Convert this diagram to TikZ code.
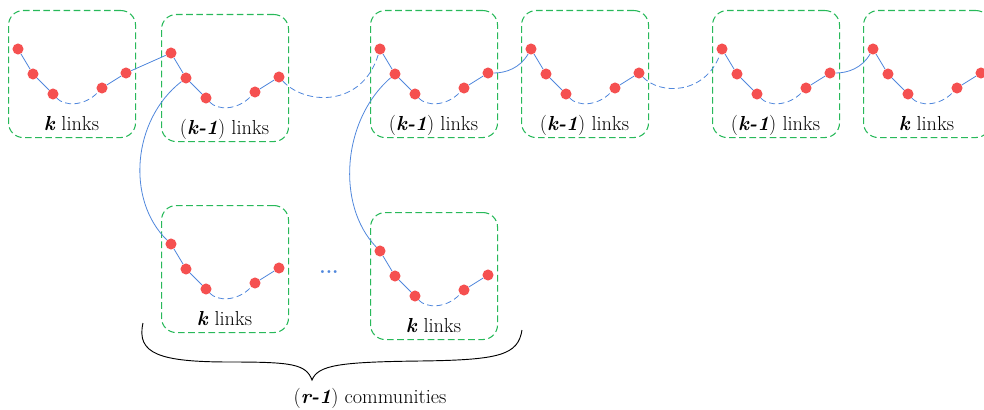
\documentclass[tikz,border=0pt]{standalone}
\usepackage{tikz}

\definecolor{commgreen}{RGB}{40,185,90}
\definecolor{linkblue}{RGB}{80,135,220}
\definecolor{dotred}{RGB}{245,80,80}

\tikzset{
  commbox/.style={draw=commgreen, line width=0.8pt, dash pattern=on 5pt off 2.6pt,
    rounded corners=11pt, minimum width=95.25pt, minimum height=95.25pt,
    inner sep=0pt, anchor=north west},
  vtx/.style={circle, fill=dotred, minimum size=8.3pt, inner sep=0pt},
  link/.style={draw=linkblue, line width=0.6pt},
  dlink/.style={link, dash pattern=on 4.5pt off 2.6pt},
  lbl/.style={anchor=base, font=\fontsize{15.2}{18}\selectfont, inner sep=0pt},
  brace/.style={draw=black, line width=0.7pt},
}

% one community: name, top-left x, top-left y, label
\newcommand\community[4]{%
  \begin{scope}[shift={(#2,#3)}]
    \node[commbox] (#1) at (0,0) {};
    \node[vtx] (#1-1) at (10,39) {};
    \node[vtx] (#1-2) at (25,64) {};
    \node[vtx] (#1-3) at (45,84) {};
    \node[vtx] (#1-4) at (94,78) {};
    \node[vtx] (#1-5) at (118,63) {};
    \draw[link] (#1-1) -- (#1-2) -- (#1-3);
    \draw[dlink] (#1-3) .. controls (56,96) and (76,97) .. (#1-4);
    \draw[link] (#1-4) -- (#1-5);
    \node[lbl] (#1-lab) at (63.5,120) {#4};
  \end{scope}}

\newcommand\bk{\textbf{\textit{k}}}
\newcommand\bkm{(\textbf{\textit{k-1}})}

\begin{document}
\begin{tikzpicture}[x=0.75pt, y=-0.75pt]
  \useasboundingbox (0,0) rectangle (984,410);

  % top chain of communities
  \community{c1}{8}{10}{\bk{} links}
  \community{c2}{161}{14}{\bkm{} links}
  \community{c3}{370}{10}{\bkm{} links}
  \community{c4}{521}{10}{\bkm{} links}
  \community{c5}{712}{10}{\bkm{} links}
  \community{c6}{863}{10}{\bk{} links}

  % hanging communities
  \community{c7}{161}{205}{\bk{} links}
  \community{c8}{370}{212}{\bk{} links}

  % links between neighbouring communities
  \draw[link] (c1-5) -- (c2-1);
  \draw[dlink] (c2-5) .. controls (305,105) and (362,108) .. (c3-1);
  \draw[link] (c3-5) .. controls (506,73) and (520,68) .. (c4-1);
  \draw[dlink] (c4-5) .. controls (660,95) and (705,95) .. (c5-1);
  \draw[link] (c5-5) .. controls (848,73) and (862,68) .. (c6-1);

  % links down to the hanging communities
  \draw[link] (c2-2) .. controls (132,120) and (126,200) .. (c7-1);
  \draw[link] (c3-2) .. controls (342,120) and (336,205) .. (c8-1);

  \node[lbl, anchor=center, text=linkblue] (dots) at (329,272) {\textbf{...}};

  % brace under the hanging communities
  \coordinate (bl) at (143,323);
  \coordinate (br) at (522,330);
  \coordinate (tip) at (312,380);
  \draw[brace] (bl) .. controls (136,354) and (160,362) .. (230,362)
    .. controls (292,362) and (306,364) .. (tip)
    .. controls (318,365) and (340,362) .. (420,361)
    .. controls (500,360) and (518,355) .. (br);
  \node[lbl] (comm) at (370,403) {(\textbf{\textit{r-1}}) communities};
\end{tikzpicture}
\end{document}
